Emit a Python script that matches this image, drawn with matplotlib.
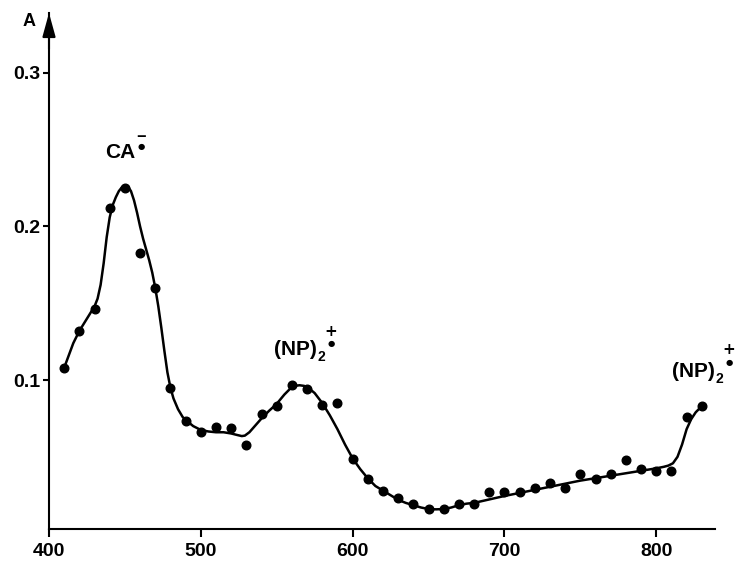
import numpy as np
import matplotlib
matplotlib.use("Agg")
import matplotlib.pyplot as plt

# measured points (wavelength nm, absorbance)
wl = [410, 420, 430, 440, 450, 460, 470, 480, 490, 500, 510, 520, 530, 540, 550,
      560, 570, 580, 590, 600, 610, 620, 630, 640, 650, 660, 670, 680, 690, 700,
      710, 720, 730, 740, 750, 760, 770, 780, 790, 800, 810, 820, 830]
absorb = [0.108, 0.132, 0.146, 0.212, 0.225, 0.183, 0.160, 0.095, 0.0735, 0.066,
          0.0696, 0.069, 0.0577, 0.078, 0.083, 0.0967, 0.094, 0.084, 0.085, 0.0485,
          0.0355, 0.028, 0.023, 0.019, 0.016, 0.016, 0.019, 0.019, 0.027, 0.027,
          0.027, 0.030, 0.033, 0.030, 0.039, 0.0355, 0.0385, 0.048, 0.042, 0.041,
          0.041, 0.0757, 0.083]

# hand-drawn smooth curve
curve_x = [410, 413, 416, 420, 425, 430, 432, 434, 436, 438, 440, 442, 444, 446,
           448, 450, 452, 454, 456, 458, 460, 462, 464, 466, 468, 470, 472, 474,
           476, 478, 480, 482, 485, 488, 490, 495, 500, 505, 510, 515, 520, 524,
           527, 529, 532, 536, 540, 545, 550, 555, 559, 562, 565, 568, 571, 575,
           580, 585, 590, 595, 600, 605, 610, 615, 620, 625, 630, 635, 640, 645,
           650, 655, 660, 665, 670, 675, 680, 700, 750, 800, 805, 808, 811, 814,
           817, 820, 823, 826, 830]
curve_y = [0.108, 0.116, 0.124, 0.132, 0.140, 0.148, 0.153, 0.162, 0.176, 0.193,
           0.206, 0.214, 0.219, 0.223, 0.2255, 0.2265, 0.226, 0.223, 0.217, 0.209,
           0.200, 0.192, 0.185, 0.178, 0.170, 0.160, 0.148, 0.134, 0.119, 0.105,
           0.095, 0.088, 0.081, 0.076, 0.074, 0.070, 0.0675, 0.0665, 0.066, 0.066,
           0.0652, 0.0642, 0.0635, 0.0638, 0.066, 0.0705, 0.075, 0.080, 0.0845,
           0.0905, 0.0945, 0.0962, 0.0966, 0.0962, 0.0948, 0.0915, 0.085, 0.077,
           0.068, 0.058, 0.049, 0.042, 0.036, 0.031, 0.028, 0.025, 0.022, 0.020,
           0.0185, 0.017, 0.016, 0.0158, 0.016, 0.017, 0.0185, 0.0195, 0.020,
           0.0245, 0.0345, 0.0425, 0.0435, 0.0443, 0.0458, 0.050, 0.058, 0.068,
           0.0745, 0.079, 0.083]

xticks = [400, 500, 600, 700, 800]
yticks = [0.1, 0.2, 0.3]
ytick_labels = ["0.1", "0.2", "0.3"]

FONT = "Liberation Sans"
plt.rcParams["font.family"] = [FONT, "DejaVu Sans"]
plt.rcParams["font.weight"] = "bold"

fig = plt.figure(figsize=(7.37, 5.61), dpi=100)
ax = fig.add_axes([49 / 737, 32 / 561, (715 - 49) / 737, (529 - 13) / 561])

ax.plot(curve_x, curve_y, color="black", lw=1.8, solid_joinstyle="round",
        solid_capstyle="round", zorder=2)
ax.plot(wl, absorb, "o", color="black", ms=6.2, zorder=3)

ax.set_xlim(400, 838.7)
ax.set_ylim(0.003, 0.339)
ax.set_xticks(xticks)
ax.set_xticklabels([str(t) for t in xticks])
ax.set_yticks(yticks)
ax.set_yticklabels(ytick_labels)

for s in ["top", "right"]:
    ax.spines[s].set_visible(False)
for s in ["left", "bottom"]:
    ax.spines[s].set_linewidth(1.5)

ax.tick_params(axis="x", direction="out", length=6, width=1.5, pad=4,
               labelsize=14)
ax.tick_params(axis="y", direction="out", length=4, width=1.5, pad=2,
               labelsize=14)
for lab in ax.get_xticklabels() + ax.get_yticklabels():
    lab.set_fontweight("bold")

# arrow at top of the y axis
ax.annotate("", xy=(0, 1.0), xycoords="axes fraction", xytext=(0, 0.93),
            arrowprops=dict(arrowstyle="-|>,head_length=1.45,head_width=0.4",
                            lw=1.5, color="black", mutation_scale=10,
                            shrinkA=0, shrinkB=0))

fig.text(29 / 737, 1 - 21.5 / 561, "A", fontsize=13, fontweight="bold",
         ha="center", va="center")


def px(xp, yp):
    return 400 + (xp - 49) / 1.518, (533.5 - yp) / 1535


DOT = ["DejaVu Sans"]

# CA radical anion label
x, y = px(105, 153)
ax.text(x, y, "CA", fontsize=15, fontweight="bold", ha="left", va="center")
x, y = px(141, 136)
ax.text(x, y, "\u2012", fontsize=10, fontweight="bold", family=DOT,
        ha="center", va="center")
x, y = px(141, 147)
ax.text(x, y, "\u25cf", fontsize=6, family=DOT, ha="center", va="center")


def np_label(x0, yc, xsub, ysub, xsup, yplus, ydot):
    x, y = px(x0, yc)
    ax.text(x, y, "(NP)", fontsize=15, fontweight="bold", ha="left", va="center")
    x, y = px(xsub, ysub)
    ax.text(x, y, "2", fontsize=10, fontweight="bold", ha="left", va="center")
    x, y = px(xsup, yplus)
    ax.text(x, y, "+", fontsize=11, fontweight="bold", family=DOT,
            ha="center", va="center")
    x, y = px(xsup, ydot)
    ax.text(x, y, "\u25cf", fontsize=6, family=DOT, ha="center", va="center")


np_label(274, 349, 317, 357, 331, 331, 343)
np_label(672, 371, 715, 379, 729, 349, 362)

fig.savefig("out.png", dpi=100)
